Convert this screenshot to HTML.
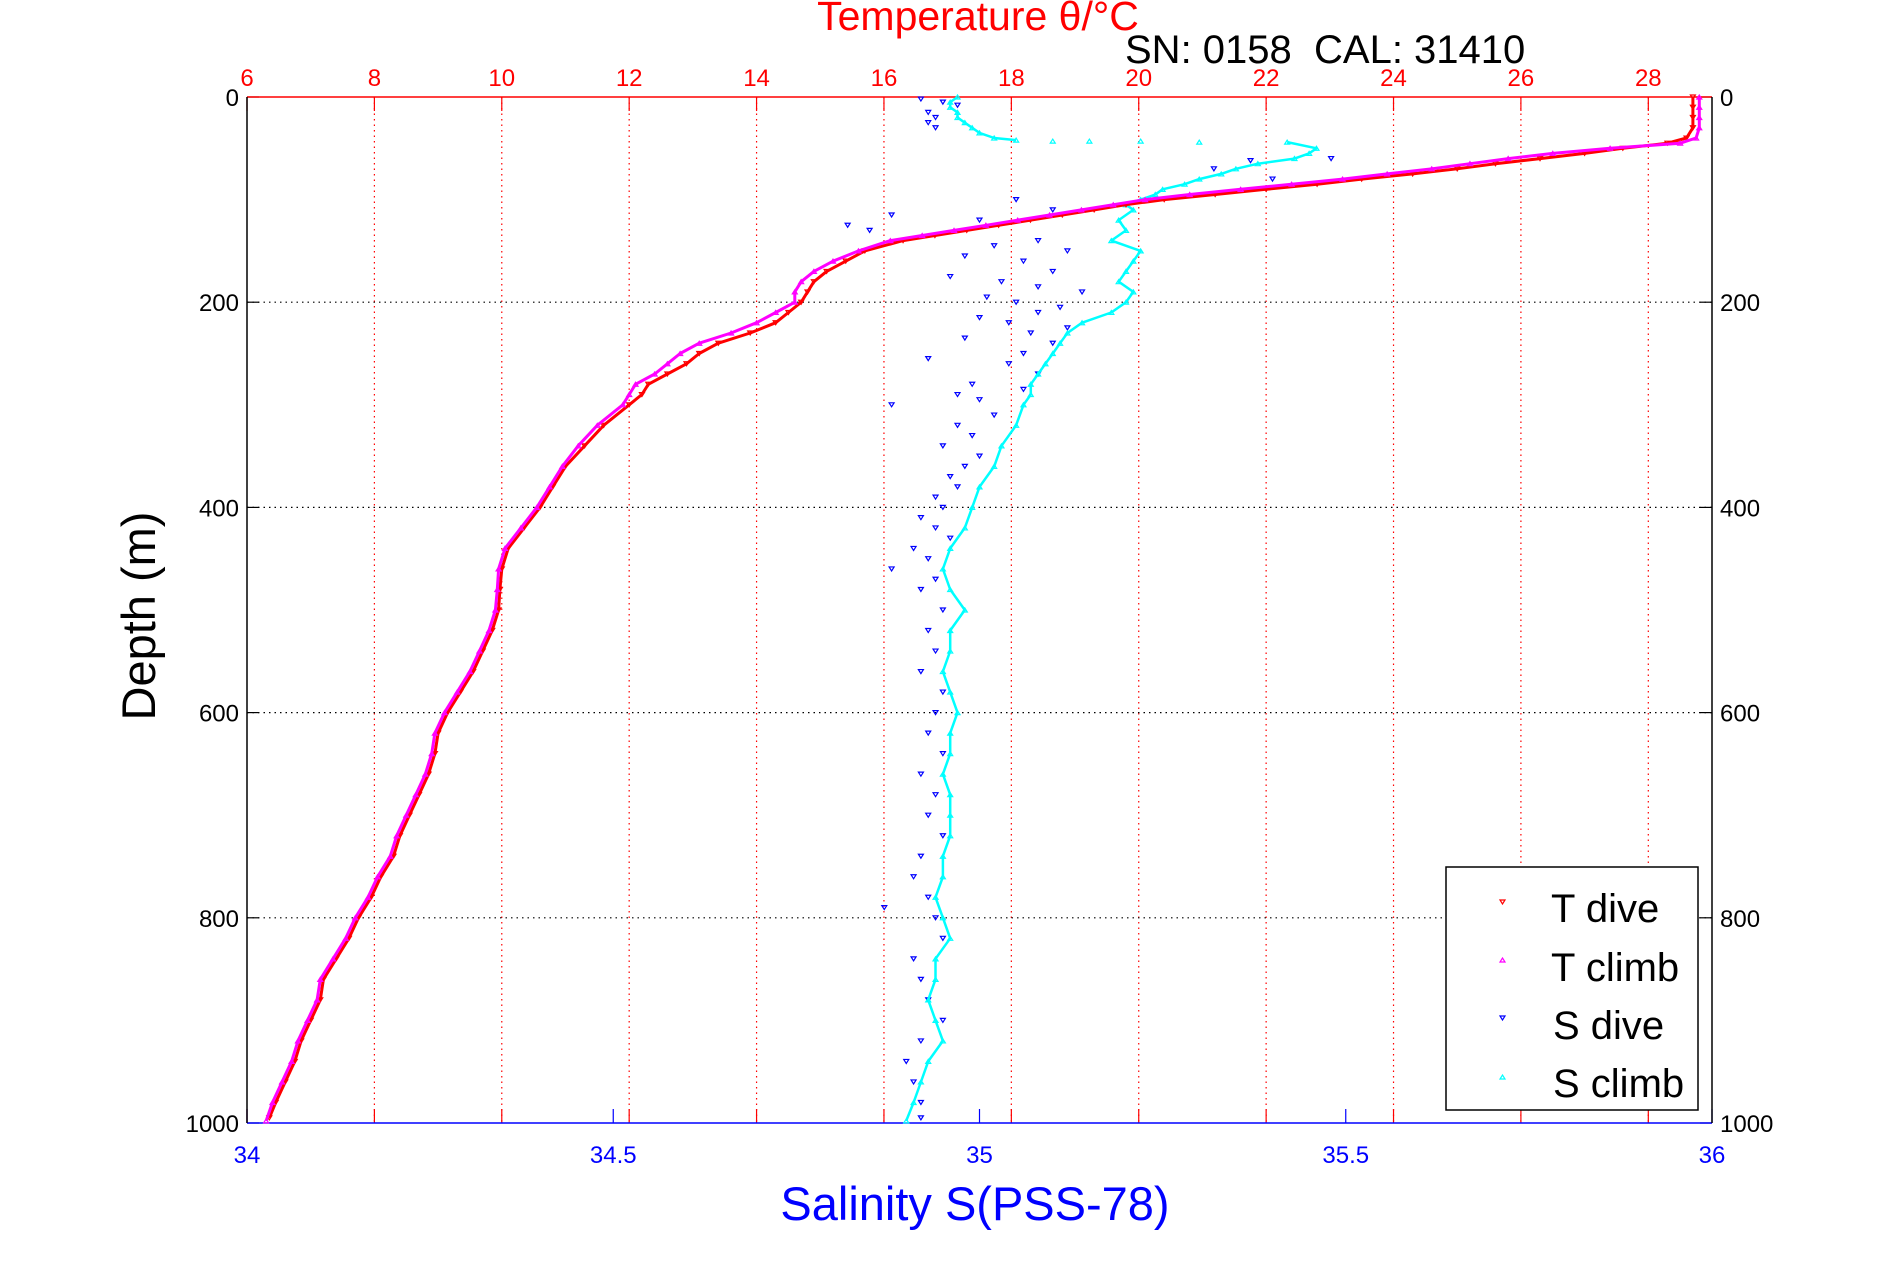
<!DOCTYPE html>
<html><head><meta charset="utf-8"><style>
html,body{margin:0;padding:0;background:#fff;}
svg{display:block;font-family:"Liberation Sans",sans-serif;}
</style></head><body>
<svg id="chart" width="1891" height="1262" viewBox="0 0 1891 1262" xmlns="http://www.w3.org/2000/svg">
<g id="grid"></g>
<g id="axes"></g>
<g id="series"></g>
<text x="978" y="30" font-size="41" fill="#ff0000" text-anchor="middle">Temperature θ/°C</text>
<text x="1125" y="63" font-size="40" fill="#000">SN: 0158&#160;&#160;CAL: 31410</text>
<text x="975" y="1220" font-size="47" fill="#0000ff" text-anchor="middle">Salinity S(PSS-78)</text>
<text transform="translate(155,616) rotate(-90)" font-size="47" fill="#000" text-anchor="middle">Depth (m)</text>
<g>
<rect x="1446" y="867" width="252" height="243" fill="#fff" stroke="#000" stroke-width="1.5"/>
<path d="M1500,900 l5,0 l-2.5,4z" fill="none" stroke="#ff0000" stroke-width="1.2"/>
<text x="1551" y="922" font-size="40">T dive</text>
<path d="M1500,962 l5,0 l-2.5,-4z" fill="none" stroke="#ff00ff" stroke-width="1.2"/>
<text x="1551" y="981" font-size="40">T climb</text>
<path d="M1500,1016 l5,0 l-2.5,4z" fill="none" stroke="#0000ff" stroke-width="1.2"/>
<text x="1553" y="1039" font-size="40">S dive</text>
<path d="M1500,1079 l5,0 l-2.5,-4z" fill="none" stroke="#00ffff" stroke-width="1.2"/>
<text x="1553" y="1097" font-size="40">S climb</text>
</g>
</svg>
<script>
const tTicks=[6,8,10,12,14,16,18,20,22,24,26,28];
const sTicks=[34,34.5,35,35.5,36];
const dTicks=[0,200,400,600,800,1000];
const tDiveDepth=[0,10,20,30,40,45,50,55,60,65,70,75,80,85,90,95,100,105,110,115,120,125,130,135,140,150,160,170,180,190,200,210,220,230,240,250,260,270,280,290,300,320,340,360,380,400,420,440,460,480,500,520,540,560,580,600,620,640,660,680,700,720,740,760,780,800,820,840,860,880,900,920,940,960,980,995];
const tDive=[28.7,28.7,28.7,28.7,28.6,28.3,27.6,27.0,26.3,25.6,25.0,24.3,23.5,22.8,22.0,21.2,20.4,19.8,19.3,18.8,18.3,17.8,17.3,16.8,16.3,15.7,15.4,15.1,14.9,14.8,14.7,14.5,14.3,13.9,13.4,13.1,12.9,12.6,12.3,12.2,12.0,11.6,11.3,11.0,10.8,10.6,10.35,10.1,10.0,9.97,9.95,9.85,9.7,9.55,9.35,9.15,9.0,8.95,8.85,8.7,8.55,8.4,8.3,8.1,7.95,7.75,7.6,7.4,7.2,7.15,7.0,6.85,6.75,6.6,6.45,6.35];
const tClimbDepth=[0,10,20,30,40,45,50,55,60,65,70,75,80,85,90,95,100,105,110,115,120,125,130,135,140,150,160,170,180,190,200,210,220,230,240,250,260,270,280,290,300,320,340,360,380,400,420,440,460,480,500,520,540,560,580,600,620,640,660,680,700,720,740,760,780,800,820,840,860,880,900,920,940,960,980,998];
const tClimb=[28.8,28.8,28.8,28.8,28.75,28.5,27.4,26.5,25.8,25.2,24.6,23.9,23.2,22.4,21.6,20.8,20.1,19.6,19.1,18.6,18.1,17.6,17.1,16.6,16.1,15.6,15.2,14.9,14.7,14.6,14.6,14.3,14.0,13.6,13.1,12.8,12.6,12.4,12.1,12.0,11.9,11.5,11.2,10.95,10.75,10.55,10.3,10.05,9.95,9.93,9.9,9.8,9.65,9.5,9.3,9.1,8.95,8.9,8.8,8.65,8.5,8.35,8.25,8.05,7.9,7.7,7.55,7.35,7.15,7.1,6.95,6.8,6.7,6.55,6.4,6.3];
const sClimbDepth=[0,5,10,15,20,25,30,35,40,42,43,43,43,44,44,50,55,60,65,70,75,80,85,90,95,100,105,110,120,130,140,150,160,170,180,190,200,210,220,230,240,250,260,270,280,290,300,320,340,360,380,400,420,440,460,480,500,520,540,560,580,600,620,640,660,680,700,720,740,760,780,800,820,840,860,880,900,920,940,960,980,998];
const sClimb=[34.97,34.96,34.96,34.97,34.97,34.98,34.99,35.0,35.02,35.05,35.1,35.15,35.22,35.3,35.42,35.46,35.45,35.43,35.38,35.35,35.33,35.30,35.28,35.25,35.24,35.22,35.20,35.21,35.19,35.20,35.18,35.22,35.21,35.20,35.19,35.21,35.20,35.18,35.14,35.12,35.11,35.10,35.09,35.08,35.07,35.07,35.06,35.05,35.03,35.02,35.00,34.99,34.98,34.96,34.95,34.96,34.98,34.96,34.96,34.95,34.96,34.97,34.96,34.96,34.95,34.96,34.96,34.96,34.95,34.95,34.94,34.95,34.96,34.94,34.94,34.93,34.94,34.95,34.93,34.92,34.91,34.90,34.91];
const sDiveDepth=[2,5,8,15,20,25,30,60,62,70,80,100,110,115,120,125,130,140,145,150,155,160,170,175,180,185,190,195,200,205,210,215,220,225,230,235,240,250,255,260,270,280,285,290,295,300,310,320,330,340,350,360,370,380,390,400,410,420,430,440,450,460,470,480,500,520,540,560,580,600,620,640,660,680,700,720,740,760,780,790,800,820,840,860,880,900,920,940,960,980,995];
const sDive=[34.92,34.95,34.97,34.93,34.94,34.93,34.94,35.48,35.37,35.32,35.40,35.05,35.10,34.88,35.00,34.82,34.85,35.08,35.02,35.12,34.98,35.06,35.10,34.96,35.03,35.08,35.14,35.01,35.05,35.11,35.08,35.00,35.04,35.12,35.07,34.98,35.10,35.06,34.93,35.04,35.08,34.99,35.06,34.97,35.00,34.88,35.02,34.97,34.99,34.95,35.00,34.98,34.96,34.97,34.94,34.95,34.92,34.94,34.96,34.91,34.93,34.88,34.94,34.92,34.95,34.93,34.94,34.92,34.95,34.94,34.93,34.95,34.92,34.94,34.93,34.95,34.92,34.91,34.93,34.87,34.94,34.95,34.91,34.92,34.93,34.95,34.92,34.90,34.91,34.92,34.92];

const L=247,R=1712,T=97,B=1123;
const xT=t=>L+(t-6)/23*(R-L);
const xS=s=>L+(s-34)/2*(R-L);
const yD=d=>T+d/1000*(B-T);
const NS='http://www.w3.org/2000/svg';
function mk(tag,attrs,parent){const e=document.createElementNS(NS,tag);for(const k in attrs)e.setAttribute(k,attrs[k]);parent.appendChild(e);return e;}
const grid=document.getElementById('grid'),axes=document.getElementById('axes'),series=document.getElementById('series');

tTicks.forEach(t=>{const x=xT(t);
 if(t>6){const g=mk('line',{x1:x,x2:x,y1:T,y2:B,stroke:'#ff0000','stroke-width':1.2,'stroke-dasharray':'1.5,4'},grid);
 
 }
 const tk=mk('line',{x1:x,x2:x,y1:T,y2:T+14,stroke:'#ff0000','stroke-width':1.2},axes);
 
 
 const tb=mk('line',{x1:x,x2:x,y1:B,y2:B-14,stroke:'#ff0000','stroke-width':1.2},axes);
 
 
 const lb=mk('text',{x:x,y:86,'font-size':24,fill:'#ff0000','text-anchor':'middle'},axes);lb.textContent=t;
 
 
});
dTicks.forEach(d=>{const y=yD(d);
 if(d>0&&d<1000){const g=mk('line',{x1:L,x2:R,y1:y,y2:y,stroke:'#000','stroke-width':1.2,'stroke-dasharray':'1.5,4'},grid);
 
 }
 const a=mk('line',{x1:L,x2:L+12,y1:y,y2:y,stroke:'#000','stroke-width':1.2},axes);
 
 
 const b=mk('line',{x1:R,x2:R-12,y1:y,y2:y,stroke:'#000','stroke-width':1.2},axes);
 
 
 const l1=mk('text',{x:L-8,y:y+9,'font-size':24,fill:'#000','text-anchor':'end'},axes);l1.textContent=d;
 
 
 const l2=mk('text',{x:R+8,y:y+9,'font-size':24,fill:'#000'},axes);l2.textContent=d;
 
 
});
sTicks.forEach(s=>{const x=xS(s);
 const tk=mk('line',{x1:x,x2:x,y1:B,y2:B-14,stroke:'#0000ff','stroke-width':1.2},axes);
 
 
 const lb=mk('text',{x:x,y:1163,'font-size':24,fill:'#0000ff','text-anchor':'middle'},axes);lb.textContent=s;
 
 
});
const ax1=mk('line',{x1:L,x2:R,y1:T,y2:T,stroke:'#ff0000','stroke-width':1.5},axes);


const ax2=mk('line',{x1:L,x2:R,y1:B,y2:B,stroke:'#0000ff','stroke-width':1.5},axes);


const ax3=mk('line',{x1:L,x2:L,y1:T,y2:B,stroke:'#000','stroke-width':1.5},axes);


const ax4=mk('line',{x1:R,x2:R,y1:T,y2:B,stroke:'#000','stroke-width':1.5},axes);



function drawSeries(depths,vals,xf,color,down,name,lineW){
 const g=mk('g',{},series);
 
 
 if(lineW){
  let d='';
  depths.forEach((dep,i)=>{const x=xf(vals[i]),y=yD(dep);
   const jump=i>0&&Math.abs(dep-depths[i-1])<2&&Math.abs(x-xf(vals[i-1]))>25;
   d+=(i===0||jump?'M':'L')+x.toFixed(1)+','+y.toFixed(1);
  });
  const pl=mk('path',{d:d,fill:'none',stroke:color,'stroke-width':lineW,'stroke-linejoin':'round'},g);
  
  }
 depths.forEach((d,i)=>{const x=xf(vals[i]),y=yD(d);
  const p=mk('path',{d:down?`M${x-2.5},${y-2} l5,0 l-2.5,4z`:`M${x-2.5},${y+2} l5,0 l-2.5,-4z`,fill:'none',stroke:color,'stroke-width':1.2},g);
  
  
 });
}
drawSeries(sDiveDepth,sDive,xS,'#0000ff',true,'s-dive-series',0);
drawSeries(sClimbDepth,sClimb,xS,'#00ffff',false,'s-climb-series',2.5);
drawSeries(tDiveDepth,tDive,xT,'#ff0000',true,'t-dive-series',3);
drawSeries(tClimbDepth,tClimb,xT,'#ff00ff',false,'t-climb-series',3);
</script>
</body></html>
